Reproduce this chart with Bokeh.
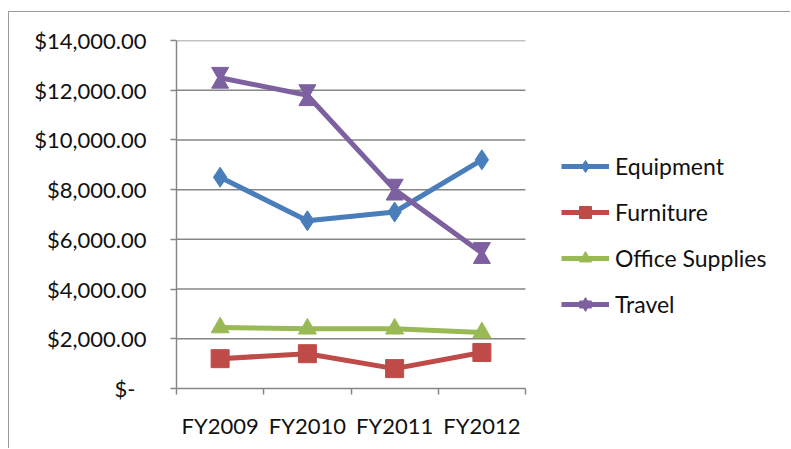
from bokeh.plotting import figure
from bokeh.models import (Range1d, FixedTicker, CustomJSTickFormatter, Legend, LegendItem,
                          ColumnDataSource)
from bokeh.transform import dodge
from bokeh.embed import file_html
from bokeh.resources import INLINE

# ---- data ----
categories = ["FY2009", "FY2010", "FY2011", "FY2012"]
equipment = [8500, 6750, 7100, 9200]
furniture = [1200, 1400, 800, 1450]
office_supplies = [2450, 2400, 2400, 2250]
travel = [12500, 11800, 8000, 5450]
series_names = ["Equipment", "Furniture", "Office Supplies", "Travel"]
y_ticks = [0, 2000, 4000, 6000, 8000, 10000, 12000, 14000]

colors = ["#4A7EBB", "#BE4B48", "#98B954", "#7D60A0"]
FONT = "Lato"
FS = "22px"
LEG_FS = "23px"

n = len(categories)
x_pos = [i + 0.5 for i in range(n)]

W, H = 782, 437
LEFT, TOP, BOTTOM = 167, 28, 61
plot_w_px = 349.0            # width of the plotting area that holds the categories
frame_w_px = W - LEFT        # frame reaches the right edge so the legend is not clipped
x_end = n * frame_w_px / plot_w_px

p = figure(width=W, height=H, output_backend="svg", toolbar_location=None,
           x_range=Range1d(0, x_end), y_range=Range1d(0, y_ticks[-1]),
           min_border_left=LEFT, min_border_right=0, min_border_top=TOP, min_border_bottom=BOTTOM)
p.margin = (11, 0, 0, 8)
p.outline_line_color = None
p.background_fill_color = "white"
p.border_fill_color = "white"
p.styles = {"border-left": "1px solid #9a9a9a", "border-top": "1px solid #9a9a9a"}

# axes
p.xaxis.bounds = (0, n)
p.xaxis.ticker = FixedTicker(ticks=x_pos, minor_ticks=list(range(n + 1)))
p.xaxis.major_label_overrides = {x: c for x, c in zip(x_pos, categories)}
p.xaxis.major_tick_out = 0
p.xaxis.major_tick_in = 0
p.xaxis.minor_tick_out = 6
p.xaxis.minor_tick_in = 0
p.xaxis.minor_tick_line_color = "#868686"
p.xaxis.minor_tick_line_width = 1.5
p.xaxis.axis_line_color = "#868686"
p.xaxis.axis_line_width = 1.5
p.xaxis.major_label_standoff = 17

p.yaxis.ticker = FixedTicker(ticks=y_ticks)
p.yaxis.formatter = CustomJSTickFormatter(code="""
if (tick == 0) { return "$-\u2002"; }
return "$" + tick.toLocaleString('en-US', {minimumFractionDigits: 2, maximumFractionDigits: 2});
""")
p.yaxis.major_tick_out = 6
p.yaxis.major_tick_in = 0
p.yaxis.minor_tick_out = 0
p.yaxis.minor_tick_in = 0
p.yaxis.major_tick_line_color = "#868686"
p.yaxis.major_tick_line_width = 1.5
p.yaxis.axis_line_color = "#868686"
p.yaxis.axis_line_width = 1.5
p.yaxis.major_label_standoff = 24

for ax in (p.xaxis, p.yaxis):
    ax.major_label_text_font = FONT
    ax.major_label_text_font_size = FS
    ax.major_label_text_color = "#111111"

# horizontal gridlines only across the category area
p.xgrid.grid_line_color = None
p.ygrid.grid_line_color = None
p.segment(x0=0, x1=n, y0=y_ticks[1:], y1=y_ticks[1:], line_color="#868686", line_width=1.5,
          level="underlay")

# conversion of pixels to data units for the hourglass marker halves
frame_h_px = float(H - TOP - BOTTOM)
px_to_data = y_ticks[-1] / frame_h_px

items = []
all_vals = [equipment, furniture, office_supplies, travel]
markers = ["diamond", "square", "triangle", None]
sizes = [20, 18, 18, 17]
for name, vals, col, mk, sz in zip(series_names, all_vals, colors, markers, sizes):
    src = ColumnDataSource(dict(x=x_pos, y=vals))
    ln = p.line("x", "y", source=src, line_color=col, line_width=5)
    rends = [ln]
    if mk is not None:
        sc = p.scatter("x", "y", source=src, marker=mk, size=sz, fill_color=col, line_color=col)
        rends.append(sc)
    else:
        off = 5.5 * px_to_data
        s1 = p.scatter("x", dodge("y", off), source=src, marker="inverted_triangle", size=sz,
                       fill_color=col, line_color=col)
        s2 = p.scatter("x", dodge("y", -off), source=src, marker="triangle", size=sz,
                       fill_color=col, line_color=col)
        rends.extend([s1, s2])
    items.append(LegendItem(label=name, renderers=rends))

legend = Legend(items=items, location=(385, 69), orientation="vertical",
                glyph_width=48, glyph_height=30, label_height=30, spacing=16,
                label_standoff=6, padding=0, margin=0,
                border_line_color=None, background_fill_alpha=0,
                label_text_font=FONT, label_text_font_size=LEG_FS, label_text_color="#111111")
p.add_layout(legend, "center")

open("out.html", "w").write(file_html(p, INLINE))
